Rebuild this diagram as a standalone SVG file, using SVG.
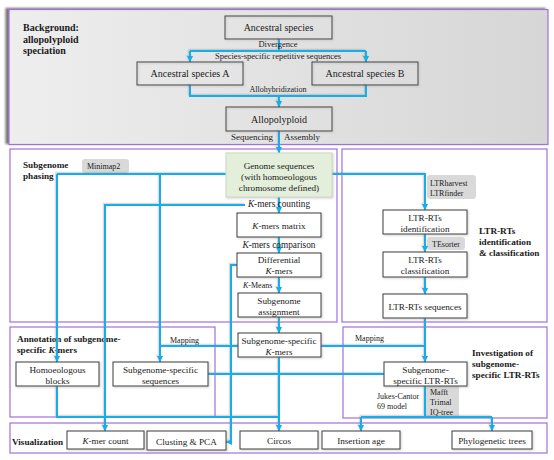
<svg xmlns="http://www.w3.org/2000/svg" width="554" height="460" viewBox="0 0 554 460" font-family="'Liberation Serif', 'Times New Roman', serif">
<defs>
<style>
text{font-family:'Liberation Serif','Times New Roman',serif;fill:#1a1a1a}
.bx{font-size:9.2px;text-anchor:middle}
.tb{font-size:10px;text-anchor:middle}
.lb{font-size:8px}
.lm{font-size:9.3px;text-anchor:middle}
.tt{font-size:9.2px;font-weight:bold}
.panel{fill:#ffffff;stroke:#a36fd6;stroke-width:1.2}
.box{fill:#ffffff;stroke:#3c3c3c;stroke-width:1;filter:url(#bsh)}
.tbox{fill:none;stroke:#444;stroke-width:1;filter:url(#bsh)}
.gbox{fill:#d9d9d9;stroke:none}
.cn{fill:none;stroke:#14aeea;stroke-width:2;stroke-linejoin:miter}
.ar{marker-end:url(#arr)}
</style>
<marker id="arr" markerUnits="userSpaceOnUse" markerWidth="7" markerHeight="7" refX="6" refY="3.5" orient="auto">
<path d="M0,0.5 L6.5,3.5 L0,6.5 z" fill="#14aeea"/>
</marker>
<linearGradient id="topg" x1="0" y1="0" x2="1" y2="0">
<stop offset="0" stop-color="#eeeeee"/>
<stop offset="1" stop-color="#d6d6d6"/>
</linearGradient>
<filter id="psh" x="-5%" y="-5%" width="110%" height="110%">
<feDropShadow dx="-3" dy="-1" stdDeviation="0.8" flood-color="#555" flood-opacity="0.8"/>
</filter>
<filter id="lsh" x="-5%" y="-5%" width="110%" height="110%">
<feDropShadow dx="-1.3" dy="-1.3" stdDeviation="0.7" flood-color="#888" flood-opacity="0.3"/>
</filter>
<filter id="bsh" x="-10%" y="-10%" width="120%" height="130%">
<feDropShadow dx="1" dy="1" stdDeviation="0.8" flood-color="#888" flood-opacity="0.4"/>
</filter>
</defs>

<g id="panels">
<rect id="panel-background" x="9" y="9.5" width="539" height="135" fill="url(#topg)" stroke="#a36fd6" stroke-width="1.2" filter="url(#psh)"/>
<rect id="panel-phasing" class="panel" x="10" y="149" width="327" height="173"/>
<rect id="panel-ltr" class="panel" x="342" y="149" width="205" height="173"/>
<rect id="panel-annotation" class="panel" x="10" y="327" width="205" height="90"/>
<rect id="panel-investigation" class="panel" x="343" y="327" width="204" height="91"/>
<rect id="panel-visualization" class="panel" x="10" y="423" width="537" height="30"/>
</g>

<g id="titles">
<text class="tt" x="23" y="31" style="font-size:10px">Background:</text>
<text class="tt" x="23" y="42.5" style="font-size:10px">allopolyploid</text>
<text class="tt" x="23" y="54" style="font-size:10px">speciation</text>
<text class="tt" x="23" y="168">Subgenome</text>
<text class="tt" x="23" y="179">phasing</text>
<text class="tt" x="479" y="234">LTR-RTs</text>
<text class="tt" x="479" y="245">identification</text>
<text class="tt" x="479" y="256">&amp; classification</text>
<text class="tt" x="17" y="342">Annotation of subgenome-</text>
<text class="tt" x="17" y="353">specific <tspan font-style="italic">K</tspan>-mers</text>
<text class="tt" x="472" y="356">Investigation of</text>
<text class="tt" x="472" y="367">subgenome-</text>
<text class="tt" x="472" y="378">specific LTR-RTs</text>
<text class="tt" x="12" y="444.5">Visualization</text>
</g>

<g id="tool-labels">
<rect class="gbox" x="82" y="159" width="47" height="14" rx="3"/>
<text class="lb" x="87" y="168.5">Minimap2</text>
<rect class="gbox" x="427" y="175" width="49" height="24" rx="3"/>
<text class="lb" x="430" y="186">LTRharvest</text>
<text class="lb" x="430" y="196">LTRfinder</text>
<rect class="gbox" x="427" y="237" width="38" height="13" rx="3"/>
<text class="lb" x="432" y="246.5">TEsorter</text>
<rect class="gbox" x="424" y="386" width="35" height="31"/>
<text class="lb" x="430" y="395">Mafft</text>
<text class="lb" x="430" y="405">Trimal</text>
<text class="lb" x="430" y="414.5">IQ-tree</text>
</g>

<g id="connectors" filter="url(#lsh)">
<path class="cn" d="M279,39 V51 M190,51 H366"/>
<path class="cn ar" d="M190,51 V62"/>
<path class="cn ar" d="M366,51 V62"/>
<path class="cn" d="M190,85 V96 H366 V85"/>
<path class="cn ar" d="M279,96 V107"/>
<path class="cn ar" d="M279,131 V153"/>
<path class="cn" d="M226,174 H57"/>
<path class="cn ar" d="M57,174 V362"/>
<path class="cn ar" d="M160,174 V362"/>
<path class="cn ar" d="M332,174 H425 V210"/>
<path class="cn ar" d="M279,197 V213"/>
<path class="cn ar" d="M245,205 H105 V431"/>
<path class="cn ar" d="M279,237 V253"/>
<path class="cn ar" d="M279,277 V293"/>
<path class="cn ar" d="M237,265 H231 V442 H226"/>
<path class="cn ar" d="M279,317 V333"/>
<path class="cn ar" d="M279,357 V431"/>
<path class="cn" d="M160,346 H425"/>
<path class="cn ar" d="M425,234 V252"/>
<path class="cn ar" d="M425,277 V294"/>
<path class="cn ar" d="M425,318 V362"/>
<path class="cn" d="M208,374 H384"/>
<path class="cn" d="M57,386 V417 H279"/>
<path class="cn" d="M425,386 V417 M361,417 H492"/>
<path class="cn ar" d="M361,417 V431"/>
<path class="cn ar" d="M492,417 V431"/>
</g>

<g id="connector-labels">
<text class="lb" x="278" y="47" text-anchor="middle" style="font-size:8.5px">Divergence</text>
<text class="lb" x="278" y="58.5" text-anchor="middle" style="font-size:8.5px">Species-specific repetitive sequences</text>
<text class="lb" x="278" y="92" text-anchor="middle">Allohybridization</text>
<text x="273" y="139.5" text-anchor="end" style="font-size:9px">Sequencing</text>
<text x="284" y="139.5" style="font-size:9px">Assembly</text>
<text class="lm" x="279" y="207"><tspan font-style="italic">K</tspan>-mers counting</text>
<text class="lm" x="279" y="248"><tspan font-style="italic">K</tspan>-mers comparison</text>
<text class="lb" x="243" y="288"><tspan font-style="italic">K</tspan>-Means</text>
<text class="lb" x="170" y="342.5">Mapping</text>
<text class="lb" x="355" y="341">Mapping</text>
<text class="lb" x="377" y="399">Jukes-Cantor</text>
<text class="lb" x="377" y="408.5">69 model</text>
</g>

<g id="node-ancestral">
<rect class="tbox" x="225" y="16" width="107" height="23"/>
<text class="tb" x="278.5" y="31">Ancestral species</text>
</g>
<g id="node-ancestral-a">
<rect class="tbox" x="137" y="62" width="106" height="23"/>
<text class="tb" x="190" y="77">Ancestral species A</text>
</g>
<g id="node-ancestral-b">
<rect class="tbox" x="312" y="62" width="106" height="23"/>
<text class="tb" x="365" y="77">Ancestral species B</text>
</g>
<g id="node-allopolyploid">
<rect class="tbox" x="226" y="107" width="106" height="24"/>
<text class="tb" x="279" y="122.5">Allopolyploid</text>
</g>
<g id="node-genome">
<rect x="226" y="153" width="106" height="44" fill="#e3efdb" stroke="#cbd8c4" stroke-width="1" filter="url(#bsh)"/>
<text class="bx" x="279" y="169">Genome sequences</text>
<text class="bx" x="279" y="180">(with homoeologous</text>
<text class="bx" x="279" y="191">chromosome defined)</text>
</g>
<g id="node-kmers-matrix">
<rect class="box" x="237" y="213" width="84" height="24"/>
<text class="bx" x="279" y="228.5"><tspan font-style="italic">K</tspan>-mers matrix</text>
</g>
<g id="node-differential">
<rect class="box" x="237" y="253" width="84" height="24"/>
<text class="bx" x="279" y="263">Differential</text>
<text class="bx" x="279" y="274"><tspan font-style="italic">K</tspan>-mers</text>
</g>
<g id="node-assignment">
<rect class="box" x="238" y="293" width="83" height="24"/>
<text class="bx" x="279" y="304">Subgenome</text>
<text class="bx" x="279" y="315">assignment</text>
</g>
<g id="node-specific-kmers">
<rect class="box" x="238" y="333" width="83" height="24"/>
<text class="bx" x="279" y="344">Subgenome-specific</text>
<text class="bx" x="279" y="355"><tspan font-style="italic">K</tspan>-mers</text>
</g>
<g id="node-ltr-identification">
<rect class="box" x="383" y="210" width="84" height="24"/>
<text class="bx" x="425" y="220.5">LTR-RTs</text>
<text class="bx" x="425" y="231.5">identification</text>
</g>
<g id="node-ltr-classification">
<rect class="box" x="383" y="252" width="84" height="25"/>
<text class="bx" x="425" y="262.5">LTR-RTs</text>
<text class="bx" x="425" y="274">classification</text>
</g>
<g id="node-ltr-sequences">
<rect class="box" x="383" y="294" width="84" height="24"/>
<text class="bx" x="425" y="309.5">LTR-RTs sequences</text>
</g>
<g id="node-homoeologous">
<rect class="box" x="16" y="362" width="83" height="24"/>
<text class="bx" x="57.5" y="372.5">Homoeologous</text>
<text class="bx" x="57.5" y="383.5">blocks</text>
</g>
<g id="node-specific-sequences">
<rect class="box" x="113" y="362" width="95" height="24"/>
<text class="bx" x="160.5" y="372.5">Subgenome-specific</text>
<text class="bx" x="160.5" y="383.5">sequences</text>
</g>
<g id="node-specific-ltr">
<rect class="box" x="384" y="362" width="83" height="24"/>
<text class="bx" x="425.5" y="372.5">Subgenome-</text>
<text class="bx" x="425.5" y="383.5">specific LTR-RTs</text>
</g>
<g id="node-kmer-count">
<rect class="box" x="67" y="431" width="77" height="18"/>
<text class="bx" x="105.5" y="443.5"><tspan font-style="italic">K</tspan>-mer count</text>
</g>
<g id="node-clusting">
<rect class="box" x="147" y="431" width="79" height="19"/>
<text class="bx" x="186.5" y="444.5">Clusting &amp; PCA</text>
</g>
<g id="node-circos">
<rect class="box" x="240" y="431" width="78" height="18"/>
<text class="bx" x="279" y="443.5">Circos</text>
</g>
<g id="node-insertion-age">
<rect class="box" x="322" y="431" width="78" height="18"/>
<text class="bx" x="361" y="443.5">Insertion age</text>
</g>
<g id="node-phylogenetic">
<rect class="box" x="452" y="431" width="80" height="18"/>
<text class="bx" x="492" y="443.5">Phylogenetic trees</text>
</g>
</svg>
